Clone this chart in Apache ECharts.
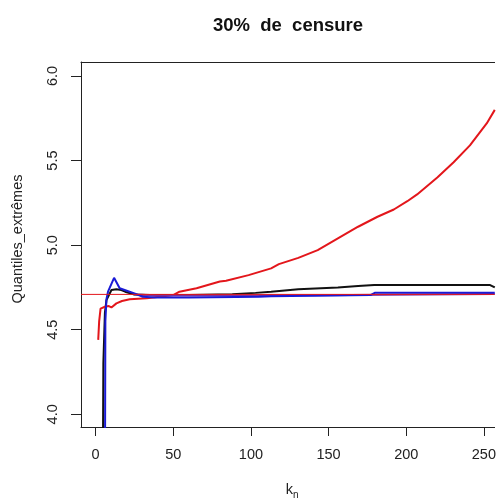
<html>
<head>
    <meta http-equiv="Content-Type" content="text/html; charset=utf-8" />
    <script src="https://cdn.jsdelivr.net/npm/echarts@6/dist/echarts.min.js"></script>
    <style>
        html, body { margin: 0; padding: 0; background: #fff; }
        #main { width: 499px; height: 499px; }
    </style>
</head>
<body>
    <div id="main"></div>
    <script type="text/javascript">

        // textes
        var titleText = '30%  de  censure';
        var yName = 'Quantiles_extrêmes';
        var xTicks = [0, 50, 100, 150, 200, 250];
        var yTicks = [4.0, 4.5, 5.0, 5.5, 6.0];

        // valeur vraie (ligne horizontale)
        var trueValue = 4.709;

        // courbes [k_n, quantile]
        var redCurve = [[1.7, 4.44], [2.3, 4.55], [3.2, 4.625], [6, 4.636], [8.5, 4.64], [10.2, 4.632],
            [13.4, 4.656], [17, 4.67], [22, 4.68], [33, 4.686], [45, 4.70], [50, 4.705], [54, 4.725],
            [65, 4.745], [80, 4.785], [84, 4.79], [98.5, 4.823], [113, 4.863], [118, 4.888],
            [130.5, 4.925], [143, 4.971], [156, 5.04], [169, 5.109], [181.5, 5.168], [192, 5.211],
            [200.7, 5.26], [207, 5.30], [220, 5.40], [230.5, 5.49], [241, 5.59], [251.8, 5.72], [257, 5.80]];

        var blackCurve = [[4.6, 3.5], [5, 4.3], [6, 4.6], [7, 4.675], [10.2, 4.735], [13.4, 4.74],
            [16.6, 4.735], [19, 4.725], [24.5, 4.709], [35, 4.705], [60, 4.705], [88, 4.71],
            [103, 4.718], [113, 4.725], [130.5, 4.739], [156, 4.75], [169, 4.758], [179.4, 4.764],
            [194, 4.764], [245, 4.764], [254, 4.764], [257, 4.75]];

        var blueCurve = [[6, 3.5], [6.3, 4.55], [7, 4.68], [8, 4.725], [11.9, 4.807], [15.5, 4.745],
            [18.7, 4.735], [25, 4.715], [30.4, 4.695], [38, 4.69], [60, 4.69], [75, 4.692],
            [105, 4.695], [113, 4.698], [177, 4.705], [180, 4.719], [257, 4.719]];

        var purpleCurve = [[25, 4.708], [40, 4.703], [60, 4.703], [113, 4.704], [141, 4.704],
            [142, 4.712], [257, 4.712]];

        // bornes des axes (comme R, xaxs="r")
        var xMin = -9.39, xMax = 256.9;
        var yMin = 3.925, yMax = 6.083;
        var axisColor = '#222';
        var font = 'Liberation Sans, Arial, sans-serif';

        function lineSeries(data, color, width) {
            return {
                type: 'line',
                data: data,
                showSymbol: false,
                symbol: 'none',
                lineStyle: { color: color, width: width },
                silent: true,
                clip: true
            };
        }

        var option = {
            animation: false,
            backgroundColor: '#fff',
            textStyle: { fontFamily: font },
            grid: { left: 81, right: 1, top: 62, bottom: 72 },
            xAxis: [{
                type: 'value',
                position: 'bottom',
                min: xMin,
                max: xMax,
                axisLine: { show: true, onZero: false, lineStyle: { color: axisColor, width: 1 } },
                axisTick: { show: true, customValues: xTicks, length: 9, lineStyle: { color: axisColor } },
                axisLabel: { customValues: xTicks, margin: 20, fontSize: 14.5, color: '#222', fontFamily: font },
                splitLine: { show: false }
            }, {
                type: 'value',
                position: 'top',
                min: xMin,
                max: xMax,
                axisLine: { show: true, onZero: false, lineStyle: { color: axisColor, width: 1 } },
                axisTick: { show: false },
                axisLabel: { show: false },
                splitLine: { show: false }
            }],
            yAxis: {
                type: 'value',
                min: yMin,
                max: yMax,
                axisLine: { show: true, onZero: false, lineStyle: { color: axisColor, width: 1 } },
                axisTick: { show: true, customValues: yTicks, length: 10, lineStyle: { color: axisColor } },
                axisLabel: {
                    customValues: yTicks, rotate: 90, margin: 21, fontSize: 14.5, color: '#222', fontFamily: font,
                    formatter: function (v) { return v.toFixed(1); }
                },
                splitLine: { show: false }
            },
            graphic: [
                { type: 'text', x: 288, y: 26, style: { text: titleText, fontSize: 18.5, fontWeight: 'bold', fontFamily: font, fill: '#111', align: 'center', verticalAlign: 'middle' } },
                { type: 'text', x: 18, y: 239, rotation: Math.PI / 2, style: { text: yName, fontSize: 14.5, fontFamily: font, fill: '#222', align: 'center', verticalAlign: 'middle' } },
                { type: 'text', x: 293, y: 490, style: { text: 'k', fontSize: 14.5, fontFamily: font, fill: '#222', align: 'right', verticalAlign: 'middle' } },
                { type: 'text', x: 293, y: 495, style: { text: 'n', fontSize: 10, fontFamily: font, fill: '#222', align: 'left', verticalAlign: 'middle' } }
            ],
            series: [
                lineSeries(blackCurve, '#111', 2),
                lineSeries(redCurve, '#e3161b', 2),
                lineSeries(purpleCurve, '#7b2f9e', 2),
                lineSeries(blueCurve, '#1a1ad6', 2),
                lineSeries([[xMin, trueValue], [xMax, trueValue]], '#e3161b', 1)
            ]
        };

        var myChart = echarts.init(document.getElementById('main'));
        myChart.setOption(option);
    </script>
</body>
</html>
